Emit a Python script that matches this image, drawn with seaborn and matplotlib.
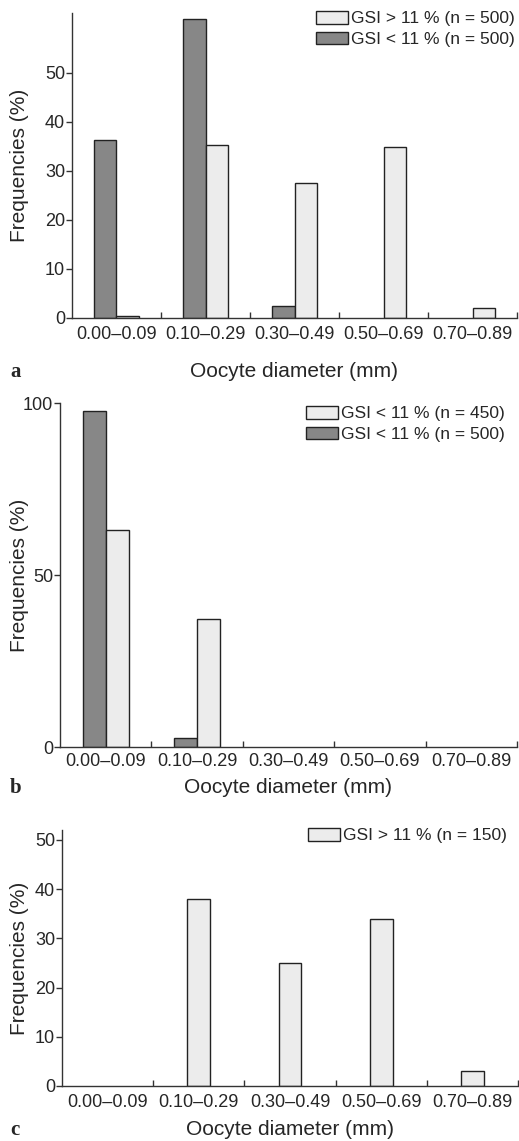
import numpy as np
import pandas as pd
import matplotlib
matplotlib.use("Agg")
import matplotlib.pyplot as plt
from matplotlib.patches import Patch
from matplotlib.ticker import FixedLocator
import seaborn as sns

# oocyte diameter classes (mm)
classes = ["0.00\u20130.09", "0.10\u20130.29", "0.30\u20130.49", "0.50\u20130.69", "0.70\u20130.89"]

# panel a
a_light_label = "GSI > 11 % (n = 500)"
a_dark_label = "GSI < 11 % (n = 500)"
a_light = [0.4, 35.2, 27.5, 34.8, 2.0]
a_dark = [36.3, 61.0, 2.4, 0.0, 0.0]

# panel b
b_light_label = "GSI < 11 % (n = 450)"
b_dark_label = "GSI < 11 % (n = 500)"
b_light = [63.1, 37.2, 0.0, 0.0, 0.0]
b_dark = [97.7, 2.5, 0.0, 0.0, 0.0]

# panel c
c_light_label = "GSI > 11 % (n = 150)"
c_light = [0.0, 38.0, 25.0, 33.9, 3.0]

dark_col = "#878787"
light_col = "#ececec"
edge_col = "#222222"

sns.set_style("ticks")
plt.rcParams['font.family'] = ['Liberation Sans', 'DejaVu Sans']

W, H = 519, 1141
fig = plt.figure(figsize=(W / 100, H / 100), dpi=100)


def px_axes(left, right, top, bottom):
    return fig.add_axes([left / W, 1 - bottom / H, (right - left) / W, (bottom - top) / H])


def long_df(dark, light, dark_label, light_label):
    return pd.DataFrame({
        "range": classes * 2,
        "group": [dark_label] * len(classes) + [light_label] * len(classes),
        "freq": list(dark) + list(light),
    })


def style_axes(ax, ylim, yticks, letter, box, lab_off, tick_pad, leg_right, leg_top, entries):
    left, right, top, bottom = box
    # hide empty bars (zero height would draw a line on the axis)
    for cont in ax.containers:
        for p in cont.patches:
            if p.get_height() == 0:
                p.set_visible(False)
    ax.set_xlim(-0.5, 4.5)
    ax.set_ylim(*ylim)
    ax.set_yticks(yticks)
    ax.xaxis.set_minor_locator(FixedLocator([0.5, 1.5, 2.5, 3.5, 4.5]))
    ax.tick_params(axis="x", which="major", length=0, pad=tick_pad, labelsize=13)
    ax.tick_params(axis="x", which="minor", direction="in", length=4, width=1, color="#333333")
    ax.tick_params(axis="y", length=4, width=1, pad=1, labelsize=13, color="#333333")
    sns.despine(ax=ax)
    for s in ["left", "bottom"]:
        ax.spines[s].set_color("#333333")
        ax.spines[s].set_linewidth(1)
    ax.set_xlabel("Oocyte diameter (mm)", fontsize=15)
    ax.set_ylabel("Frequencies (%)", fontsize=15)
    h = bottom - top
    w = right - left
    ax.xaxis.set_label_coords(0.5, -(lab_off - 10) / h)
    ax.yaxis.set_label_coords(-(left - 29) / w, 0.5)
    fig.text(10 / W, 1 - (bottom + lab_off) / H, letter, family="Liberation Serif",
             fontweight="bold", fontsize=15, ha="left", va="center")
    handles = [Patch(facecolor=c, edgecolor=edge_col, linewidth=1) for c, _ in entries]
    labels = [lab for _, lab in entries]
    if ax.get_legend() is not None:
        ax.get_legend().remove()
    ax.legend(handles, labels, loc="upper right", frameon=False,
              bbox_to_anchor=(leg_right / W, 1 - leg_top / H), bbox_transform=fig.transFigure,
              fontsize=12.5, borderpad=0, borderaxespad=0, handlelength=1.85, handleheight=0.75,
              handletextpad=0.2, labelspacing=0.3)


# panel a
box_a = (72, 517, 13, 318)
ax_a = px_axes(*box_a)
sns.barplot(data=long_df(a_dark, a_light, a_dark_label, a_light_label), x="range", y="freq",
            hue="group", hue_order=[a_dark_label, a_light_label], palette=[dark_col, light_col],
            width=0.5, edgecolor=edge_col, linewidth=1, ax=ax_a)
style_axes(ax_a, (0, 62.2), [0, 10, 20, 30, 40, 50], "a", box_a, 54, 6, 515, 11,
           [(light_col, a_light_label), (dark_col, a_dark_label)])

# panel b
box_b = (60, 517, 403, 747)
ax_b = px_axes(*box_b)
sns.barplot(data=long_df(b_dark, b_light, b_dark_label, b_light_label), x="range", y="freq",
            hue="group", hue_order=[b_dark_label, b_light_label], palette=[dark_col, light_col],
            width=0.5, edgecolor=edge_col, linewidth=1, ax=ax_b)
style_axes(ax_b, (0, 100), [0, 50, 100], "b", box_b, 41, 4, 505, 406,
           [(light_col, b_light_label), (dark_col, b_dark_label)])

# panel c
box_c = (62, 518, 830, 1086)
ax_c = px_axes(*box_c)
df_c = pd.DataFrame({"range": classes, "freq": c_light})
sns.barplot(data=df_c, x="range", y="freq", color=light_col, width=0.25,
            edgecolor=edge_col, linewidth=1, ax=ax_c)
style_axes(ax_c, (0, 52), [0, 10, 20, 30, 40, 50], "c", box_c, 44, 6, 507, 828,
           [(light_col, c_light_label)])

fig.savefig("out.png", dpi=100)
